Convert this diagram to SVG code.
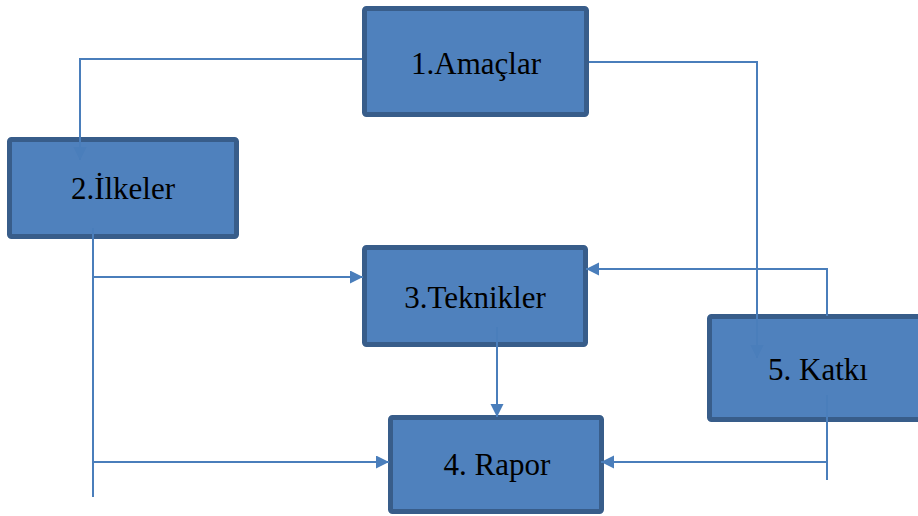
<svg xmlns="http://www.w3.org/2000/svg" width="918" height="516" viewBox="0 0 918 516">
  <style>
    .box { fill: #4F81BD; stroke: #385D8A; stroke-width: 5; }
    .label { font-family: "Liberation Serif", "Times New Roman", serif; font-size: 31px; fill: #000; text-anchor: middle; }
    .link { fill: none; stroke: #4A7EBB; stroke-width: 2; }
  </style>
  <defs>
    <marker id="arrow" markerUnits="userSpaceOnUse" markerWidth="14" markerHeight="14" refX="13" refY="6.5" orient="auto">
      <path d="M0,0 L13,6.5 L0,13 Z" fill="#4A7EBB"/>
    </marker>
  </defs>
  <rect width="918" height="516" fill="#ffffff"/>

  <g id="node-amaclar">
    <rect class="box" x="364.5" y="8.5" width="222" height="106" rx="2"/>
    <text class="label" x="476" y="74">1.Amaçlar</text>
  </g>
  <g id="node-ilkeler">
    <rect class="box" x="9.5" y="139.5" width="227" height="97" rx="2"/>
    <text class="label" x="123" y="199">2.İlkeler</text>
  </g>
  <g id="node-teknikler">
    <rect class="box" x="364.5" y="247.5" width="221" height="97" rx="2"/>
    <text class="label" x="475" y="308">3.Teknikler</text>
  </g>
  <g id="node-rapor">
    <rect class="box" x="390.5" y="417.5" width="211" height="94" rx="2"/>
    <text class="label" x="497" y="475">4. Rapor</text>
  </g>
  <g id="node-katki">
    <rect class="box" x="709.5" y="316.5" width="220" height="103" rx="2"/>
    <text class="label" x="818" y="380">5. Katkı</text>
  </g>

  <g id="connectors">
    <path class="link" d="M362,59 L80,59 L80,160" marker-end="url(#arrow)"/>
    <path class="link" d="M589,62 L757,62 L757,358" marker-end="url(#arrow)"/>
    <path class="link" d="M93,228 L93,497"/>
    <path class="link" d="M93,277 L363,277" marker-end="url(#arrow)"/>
    <path class="link" d="M93,462 L389,462" marker-end="url(#arrow)"/>
    <path class="link" d="M497,327 L497,417" marker-end="url(#arrow)"/>
    <path class="link" d="M827,316 L827,269 L586,269" marker-end="url(#arrow)"/>
    <path class="link" d="M827,395 L827,480"/>
    <path class="link" d="M827,462 L601,462" marker-end="url(#arrow)"/>
  </g>
</svg>
